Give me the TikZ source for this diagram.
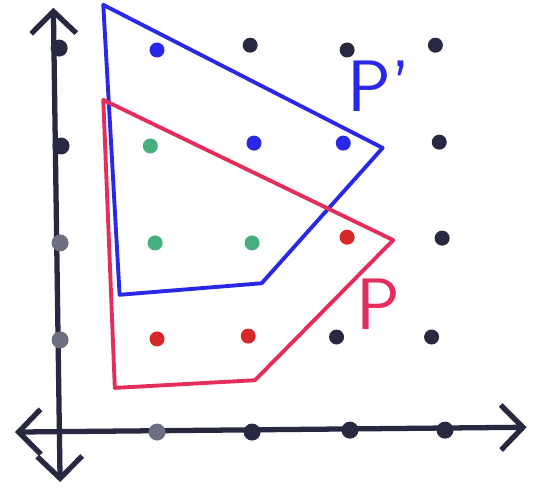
\documentclass[tikz,border=0pt]{standalone}
\usepackage{tikz}
\usetikzlibrary{arrows.meta}
\definecolor{inkblue}{RGB}{40,40,230}
\definecolor{inkred}{RGB}{228,45,90}
\definecolor{inkgreen}{RGB}{70,175,125}
\definecolor{inkdark}{RGB}{40,40,65}
\definecolor{inkgray}{RGB}{110,110,130}
\definecolor{dotred}{RGB}{215,40,40}

\begin{document}
\begin{tikzpicture}[x=0.96cm, y=0.96cm, >={Straight Barb[length=2.2mm, width=4.5mm]}, every node/.style={font=\huge\sffamily}, pt/.style={circle, inner sep=0pt, minimum size=1.5mm, fill=#1}, pt/.default=inkdark, tick/.style={pt=#1, minimum size=1.7mm}, tick/.default=inkdark, axis/.style={inkdark, line width=1.5pt}, poly/.style={line width=1.1pt, line join=round}]
	\useasboundingbox (-0.646,-0.573) rectangle (4.948,4.531);
	% axes
	\coordinate (xl) at (-0.49,0.03);
	\coordinate (xr) at (4.84,0.08);
	\coordinate (yb) at (-0.02,-0.49);
	\coordinate (yt) at (-0.09,4.45);
	\draw[axis, <->] (xl) -- (xr);
	\draw[axis, <->] (yb) -- (yt);
	\node[tick=inkgray] (x1) at (0.99,0.03) {};
	\node[tick] (x2) at (1.98,0.03) {};
	\node[tick] (x3) at (3.0,0.05) {};
	\node[tick] (x4) at (3.99,0.05) {};
	\node[tick=inkgray] (y1) at (-0.02,0.99) {};
	\node[tick=inkgray] (y2) at (-0.02,2.0) {};
	\node[tick] (y3) at (-0.01,3.01) {};
	\node[tick] (y4) at (-0.03,4.03) {};
	% polygon P'
	\coordinate (b1) at (0.43,4.48);
	\coordinate (b2) at (3.34,2.99);
	\coordinate (b3) at (2.08,1.58);
	\coordinate (b4) at (0.60,1.46);
	\draw[poly, inkblue] (b1) -- (b2) -- (b3) -- (b4) -- cycle;
	% polygon P
	\coordinate (r1) at (0.43,3.49);
	\coordinate (r2) at (3.45,2.03);
	\coordinate (r3) at (2.01,0.57);
	\coordinate (r4) at (0.55,0.49);
	\draw[poly, inkred] (r1) -- (r2) -- (r3) -- (r4) -- cycle;
	% lattice points
	\node[pt=inkblue] (p14) at (0.99,4.01) {};
	\node[pt] (p24) at (1.96,4.06) {};
	\node[pt] (p34) at (2.97,4.01) {};
	\node[pt] (p44) at (3.89,4.06) {};
	\node[pt=inkgreen] (p13) at (0.92,3.01) {};
	\node[pt=inkblue] (p23) at (2.0,3.04) {};
	\node[pt=inkblue] (p33) at (2.93,3.04) {};
	\node[pt] (p43) at (3.93,3.05) {};
	\node[pt=inkgreen] (p12) at (0.97,2.0) {};
	\node[pt=inkgreen] (p22) at (1.98,2.0) {};
	\node[pt=dotred] (p32) at (2.97,2.06) {};
	\node[pt] (p42) at (3.96,2.05) {};
	\node[pt=dotred] (p11) at (0.99,1.0) {};
	\node[pt=dotred] (p21) at (1.94,1.03) {};
	\node[pt] (p31) at (2.86,1.02) {};
	\node[pt] (p41) at (3.85,1.02) {};
	% labels
	\node[inkblue] (lblPp) at (3.3,3.63) {P'};
	\node[inkred] (lblP) at (3.3,1.36) {P};
\end{tikzpicture}
\end{document}
